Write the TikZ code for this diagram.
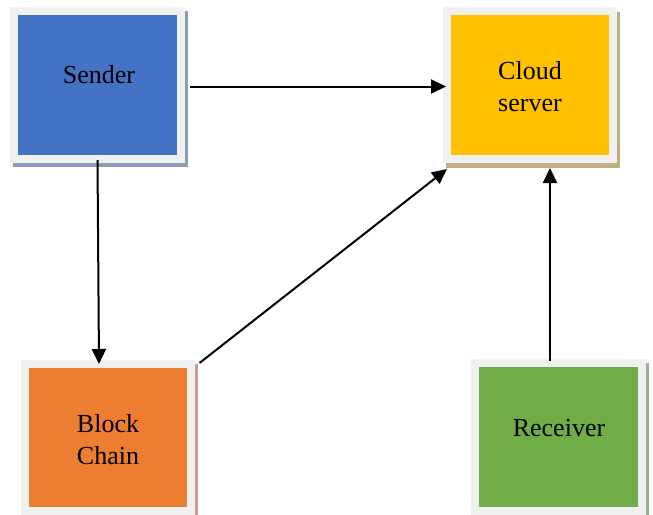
\documentclass[tikz,border=0pt]{standalone}
\usepackage{fontspec}
\setmainfont{Liberation Serif}
\usetikzlibrary{arrows.meta,backgrounds}

\definecolor{framegray}{HTML}{F0F0F0}
\definecolor{sendblue}{HTML}{4472C4}
\definecolor{cloudgold}{HTML}{FFC000}
\definecolor{chainorange}{HTML}{ED7D31}
\definecolor{recvgreen}{HTML}{70AD47}
\definecolor{shblue}{HTML}{8E9BB4}
\definecolor{shgold}{HTML}{BFAE80}
\definecolor{shorange}{HTML}{C9A08A}
\definecolor{shgreen}{HTML}{9CAF8E}

\tikzset{
  box/.style={rectangle, draw=framegray, line width=8pt, inner sep=0pt},
  lbl/.style={font=\fontsize{26}{32}\selectfont, align=center, inner sep=0pt},
  arr/.style={line width=2pt, -{Triangle[length=15pt,width=14pt]}},
}

\begin{document}
\begin{tikzpicture}[x=1pt,y=-1pt]
  \useasboundingbox (0,0) rectangle (653,514);

  % boxes
  \node[box, fill=sendblue,    minimum width=167pt, minimum height=148pt] (s) at (97.5,85) {};
  \node[box, fill=cloudgold,   minimum width=166pt, minimum height=148pt] (c) at (530,85) {};
  \node[box, fill=chainorange, minimum width=166pt, minimum height=147pt] (b) at (107.5,437.5) {};
  \node[box, fill=recvgreen,   minimum width=167pt, minimum height=148pt] (r) at (558.5,437) {};

  % drop shadows
  \begin{scope}[on background layer]
    \fill[shblue]   ([shift={(2.5,4)}]s.north west) rectangle ([shift={(2.5,4)}]s.south east);
    \fill[shgold]   ([shift={(2.5,4.5)}]c.north west) rectangle ([shift={(2.5,4.5)}]c.south east);
    \fill[shorange] ([shift={(3,4)}]b.north west) rectangle ([shift={(3,4)}]b.south east);
    \fill[shgreen]  ([shift={(3,4)}]r.north west) rectangle ([shift={(3,4)}]r.south east);
  \end{scope}

  % labels
  \node[lbl, anchor=base] (st) at (99,83) {Sender};
  \node[lbl] (ct) at (530,87) {Cloud\\server};
  \node[lbl] (bt) at (108,440) {Block\\Chain};
  \node[lbl, anchor=base] (rt) at (559,436) {Receiver};

  % connectors
  \draw[arr] ([shift={(5,1.5)}]s.east) -- ([shift={(3,1.5)}]c.west);
  \draw[arr] ([shift={(0,-3)}]s.south) -- ([shift={(-8.5,4)}]b.north);
  \draw[arr] ([shift={(5,3)}]b.north east) -- ([shift={(4,6)}]c.south west);
  \draw[arr] ([shift={(-8.5,2)}]r.north) -- ([shift={(20,5)}]c.south);
\end{tikzpicture}
\end{document}
